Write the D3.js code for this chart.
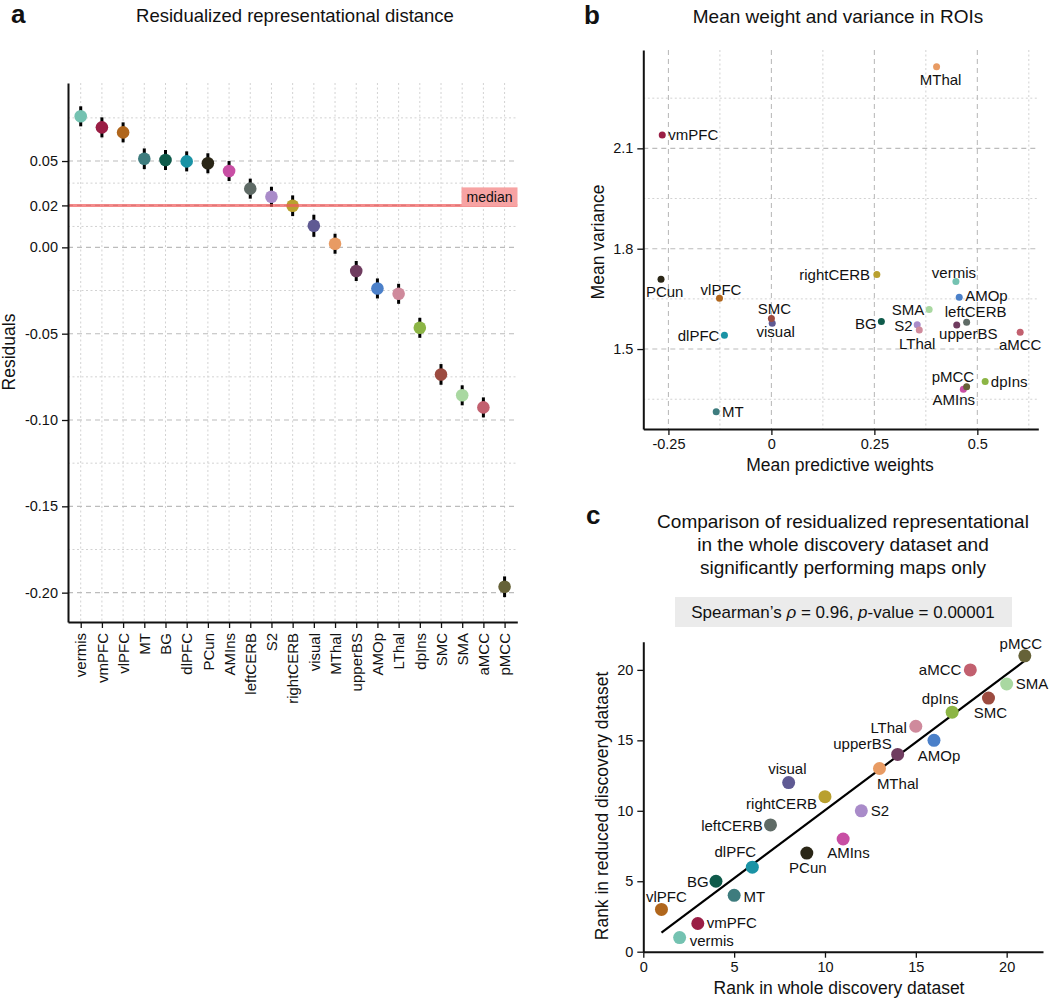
<!DOCTYPE html>
<html><head><meta charset="utf-8">
<script src="https://cdn.jsdelivr.net/npm/d3@7"></script>
<style>
body{margin:0;background:#fff}
text{font-family:"Liberation Sans",Arial,Helvetica,sans-serif;fill:#111}
</style>
</head><body>
<svg id="chart" width="1050" height="999"></svg>
<script>
// ---------------- DATA ----------------
const regions = ["vermis","vmPFC","vlPFC","MT","BG","dlPFC","PCun","AMIns","leftCERB","S2","rightCERB","visual","MThal","upperBS","AMOp","LThal","dpIns","SMC","SMA","aMCC","pMCC"];
const regionColors = ["#74c2b1","#9a1e45","#b0661c","#3e7c7e","#0f5b4b","#1a93a5","#2a2616","#c84fa4","#5f6b66","#a98bc9","#b9a02f","#5f5a93","#e89b63","#6f3c5f","#4b80c9","#cf8a9c","#8cb545","#9c4b40","#a9d8a1","#c2606f","#666238"];

// panel a: residualized representational distance
const residuals   = [0.0759,0.0695,0.0666,0.0513,0.0506,0.0498,0.0487,0.0442,0.0340,0.0293,0.0241,0.0125,0.0021,-0.0137,-0.0238,-0.0269,-0.0466,-0.0736,-0.0857,-0.0927,-0.1966];
const residualErr = [0.0058,0.0058,0.0058,0.0060,0.0058,0.0058,0.0058,0.0058,0.0058,0.0058,0.0060,0.0064,0.0058,0.0058,0.0058,0.0058,0.0058,0.0060,0.0058,0.0058,0.0060];
const medianResidual = 0.0243;
const residualTicks = [-0.20,-0.15,-0.10,-0.05,0.00,medianResidual,0.05];
const residualMinor = [0.075,0.0372,0.0121,-0.025,-0.075,-0.125,-0.175];

// panel b: mean weight and variance
const meanWeight   = [0.448,-0.265,-0.126,-0.134,0.267,-0.114,-0.268,0.466,0.474,0.354,0.256,0.002,0.401,0.450,0.456,0.359,0.519,0.000,0.383,0.604,0.474];
const meanVariance = [1.702,2.140,1.652,1.3125,1.582,1.541,1.709,1.380,1.580,1.573,1.723,1.577,2.344,1.572,1.655,1.557,1.403,1.591,1.618,1.550,1.387];
const weightTicks = [-0.25,0,0.25,0.5];
const weightMinor = [-0.125,0.125,0.375,0.625];
const varianceTicks = [1.5,1.8,2.1];
const varianceMinor = [1.35,1.65,1.95,2.25];

// panel c: ranks
const rankWhole   = [2,3,1,5,4,6,9,11,7,12,10,8,13,14,16,15,17,19,20,18,21];
const rankReduced = [1,2,3,4,5,6,7,8,9,10,11,12,13,14,15,16,17,18,19,20,21];
const rankTicks = [0,5,10,15,20];

// ---------------- LAYOUT (label placement) ----------------
const labelB = {
  MThal:[4,12.5,"middle"], vmPFC:[6,0,"start"], PCun:[3.7,12.7,"middle"], vlPFC:[1.5,-9,"middle"],
  SMC:[3,-10,"middle"], visual:[3.5,8.4,"middle"], dlPFC:[-5,0,"end"], MT:[5.7,0,"start"],
  rightCERB:[-6.7,0,"end"], BG:[-4.7,1.6,"end"], vermis:[-2,-9,"middle"], AMOp:[6,-1.5,"start"],
  SMA:[-5,0,"end"], leftCERB:[9,-10.5,"middle"], S2:[-4.7,0.6,"end"], LThal:[-2,14,"middle"],
  upperBS:[11.5,9,"middle"], aMCC:[0,12,"middle"], dpIns:[5.7,0,"start"], pMCC:[-13.7,-10.7,"middle"],
  AMIns:[-9.5,10.3,"middle"]
};
const labelC = {
  pMCC:[-4,-12,"middle"], aMCC:[-9,0,"end"], SMA:[9,0,"start"], SMC:[2,14,"middle"],
  dpIns:[-12,-14,"middle"], LThal:[-9,1,"end"], AMOp:[5,15,"middle"], upperBS:[-6,-10.6,"end"],
  MThal:[-2.6,14.7,"start"], visual:[-1.3,-14.4,"middle"], rightCERB:[-8,6.4,"end"], S2:[9.4,0,"start"],
  leftCERB:[-7.6,0.5,"end"], dlPFC:[-17,-15.2,"middle"], AMIns:[5.3,14,"middle"], PCun:[1,14.5,"middle"],
  BG:[-7.4,0,"end"], MT:[9.3,1.5,"start"], vlPFC:[5,-12.6,"middle"], vmPFC:[9,-0.7,"start"],
  vermis:[10,2.4,"start"]
};

const svg = d3.select("#chart");
svg.append("rect").attr("width",1050).attr("height",999).attr("fill","#fff");
const colorOf = d3.scaleOrdinal().domain(regions).range(regionColors);
const idx = regions.map((r,i)=>i);
const TICK_FS = "14.5px";

function styleAxis(g){
  g.select(".domain").attr("stroke","#111").attr("stroke-width",2);
  g.selectAll(".tick line").attr("stroke","#111").attr("stroke-width",1.3);
  g.selectAll(".tick text").style("font-size",TICK_FS).style("font-family",'"Liberation Sans",Arial,sans-serif').attr("fill","#111");
}
function hGrid(g, vals, y, x0, x1, dash, color, w){
  g.selectAll(null).data(vals).enter().append("line")
    .attr("x1",x0).attr("x2",x1).attr("y1",d=>y(d)).attr("y2",d=>y(d))
    .attr("stroke",color).attr("stroke-width",w).attr("stroke-dasharray",dash);
}
function vGrid(g, vals, x, y0, y1, dash, color, w){
  g.selectAll(null).data(vals).enter().append("line")
    .attr("y1",y0).attr("y2",y1).attr("x1",d=>x(d)).attr("x2",d=>x(d))
    .attr("stroke",color).attr("stroke-width",w).attr("stroke-dasharray",dash);
}
const MAJ = ["5,4","#bcbcbc",1.1], MIN = ["2,2.5","#d2d2d2",1];

// ================= PANEL A =================
const ax = d3.scalePoint().domain(regions).range([68,517.3]).padding(0.6);
const ay = d3.scaleLinear().domain([-0.2170,0.0952]).range([622,83]);
const ga = svg.append("g");
hGrid(ga, residualMinor, ay, 68, 517.3, ...MIN);
vGrid(ga, regions, ax, 83, 622, ...MIN);
hGrid(ga, residualTicks, ay, 68, 517.3, ...MAJ);

ga.selectAll(".err").data(idx).enter().append("line")
  .attr("x1",i=>ax(regions[i])).attr("x2",i=>ax(regions[i]))
  .attr("y1",i=>ay(residuals[i]-residualErr[i])).attr("y2",i=>ay(residuals[i]+residualErr[i]))
  .attr("stroke","#000").attr("stroke-width",3);
ga.selectAll(".pt").data(idx).enter().append("circle")
  .attr("cx",i=>ax(regions[i])).attr("cy",i=>ay(residuals[i])).attr("r",6.3)
  .attr("fill",i=>colorOf(regions[i]));
ga.append("line").attr("x1",68).attr("x2",517.3)
  .attr("y1",ay(medianResidual)).attr("y2",ay(medianResidual))
  .attr("stroke","#f05a5a").attr("stroke-opacity",0.7).attr("stroke-width",3);
ga.append("rect").attr("x",461.5).attr("y",ay(medianResidual)-18).attr("width",56).attr("height",19)
  .attr("fill","#f7a3a3");
ga.append("text").attr("x",489.5).attr("y",ay(medianResidual)-8.5).attr("text-anchor","middle")
  .attr("dominant-baseline","central").style("font-size","14px").text("median");

const gax = ga.append("g").attr("transform","translate(0,622)")
  .call(d3.axisBottom(ax).tickSize(6).tickSizeOuter(0));
styleAxis(gax);
gax.selectAll(".tick text").attr("transform","rotate(-90)").attr("text-anchor","end")
  .attr("x",-11).attr("y",0).attr("dy","0.35em").style("font-size","15px");
const gay = ga.append("g").attr("transform","translate(68,0)")
  .call(d3.axisLeft(ay).tickValues(residualTicks).tickFormat(d=>d.toFixed(2)).tickSize(6).tickSizeOuter(0).tickPadding(4));
styleAxis(gay);

svg.append("text").attr("x",11).attr("y",23).style("font-size","26px").style("font-weight","bold").text("a");
svg.append("text").attr("x",295).attr("y",22).attr("text-anchor","middle").style("font-size","18.5px")
  .text("Residualized representational distance");
svg.append("text").attr("transform","translate(15,352) rotate(-90)").attr("text-anchor","middle")
  .style("font-size","17.5px").text("Residuals");

// ================= PANEL B =================
const bx = d3.scaleLinear().domain([-0.311,0.648]).range([643.3,1038.3]);
const by = d3.scaleLinear().domain([1.261,2.394]).range([429,50]);
const gb = svg.append("g");
hGrid(gb, varianceMinor, by, 643.3, 1038.3, ...MIN);
vGrid(gb, weightMinor, bx, 50, 429, ...MIN);
hGrid(gb, varianceTicks, by, 643.3, 1038.3, ...MAJ);
vGrid(gb, weightTicks, bx, 50, 429, ...MAJ);
gb.selectAll(".pt").data(idx).enter().append("circle")
  .attr("cx",i=>bx(meanWeight[i])).attr("cy",i=>by(meanVariance[i])).attr("r",3.5)
  .attr("fill",i=>colorOf(regions[i]));
gb.selectAll(".lb").data(idx).enter().append("text")
  .attr("x",i=>bx(meanWeight[i])+labelB[regions[i]][0])
  .attr("y",i=>by(meanVariance[i])+labelB[regions[i]][1])
  .attr("text-anchor",i=>labelB[regions[i]][2]).attr("dominant-baseline","central")
  .style("font-size","15px").text(i=>regions[i]);
const gbx = gb.append("g").attr("transform","translate(0,429)")
  .call(d3.axisBottom(bx).tickValues(weightTicks).tickFormat(d=>String(d)).tickSize(6).tickSizeOuter(0).tickPadding(4));
styleAxis(gbx);
const gby = gb.append("g").attr("transform","translate(643.3,0)")
  .call(d3.axisLeft(by).tickValues(varianceTicks).tickFormat(d=>d.toFixed(1)).tickSize(6).tickSizeOuter(0).tickPadding(4));
styleAxis(gby);
svg.append("text").attr("x",584).attr("y",24).style("font-size","26px").style("font-weight","bold").text("b");
svg.append("text").attr("x",838).attr("y",23).attr("text-anchor","middle").style("font-size","19px")
  .text("Mean weight and variance in ROIs");
svg.append("text").attr("transform","translate(603.5,242) rotate(-90)").attr("text-anchor","middle")
  .style("font-size","17.5px").text("Mean variance");
svg.append("text").attr("x",840).attr("y",471).attr("text-anchor","middle")
  .style("font-size","17.5px").text("Mean predictive weights");

// ================= PANEL C =================
const cx = d3.scaleLinear().domain([0,22]).range([643.3,1043]);
const cy = d3.scaleLinear().domain([0,22]).range([951.7,641.7]);
const gc = svg.append("g");
svg.append("text").attr("x",586).attr("y",524).style("font-size","26px").style("font-weight","bold").text("c");
const titleC = ["Comparison of residualized representational","in the whole discovery dataset and","significantly performing maps only"];
svg.append("g").selectAll("text").data(titleC).enter().append("text")
  .attr("x",843).attr("y",(d,i)=>528+i*23).attr("text-anchor","middle").style("font-size","19px").text(d=>d);
gc.append("rect").attr("x",675).attr("y",597).attr("width",337).attr("height",30).attr("fill","#ebebeb");
const sp = gc.append("text").attr("x",843).attr("y",612).attr("text-anchor","middle")
  .attr("dominant-baseline","central").style("font-size","17px");
sp.append("tspan").text("Spearman\u2019s ");
sp.append("tspan").style("font-style","italic").text("\u03c1");
sp.append("tspan").text(" = 0.96, ");
sp.append("tspan").style("font-style","italic").text("p");
sp.append("tspan").text("-value = 0.00001");

// regression line (least squares on ranks)
const mx = d3.mean(rankWhole), my = d3.mean(rankReduced);
const slope = d3.sum(idx,i=>(rankWhole[i]-mx)*(rankReduced[i]-my)) / d3.sum(idx,i=>(rankWhole[i]-mx)**2);
const icpt = my - slope*mx;
const xr = d3.extent(rankWhole);
gc.append("line").attr("x1",cx(xr[0])).attr("x2",cx(xr[1]))
  .attr("y1",cy(icpt+slope*xr[0])).attr("y2",cy(icpt+slope*xr[1]))
  .attr("stroke","#000").attr("stroke-width",2.2);
gc.selectAll(".pt").data(idx).enter().append("circle")
  .attr("cx",i=>cx(rankWhole[i])).attr("cy",i=>cy(rankReduced[i])).attr("r",6.5)
  .attr("fill",i=>colorOf(regions[i]));
gc.selectAll(".lb").data(idx).enter().append("text")
  .attr("x",i=>cx(rankWhole[i])+labelC[regions[i]][0])
  .attr("y",i=>cy(rankReduced[i])+labelC[regions[i]][1])
  .attr("text-anchor",i=>labelC[regions[i]][2]).attr("dominant-baseline","central")
  .style("font-size","15px").text(i=>regions[i]);
const gcx = gc.append("g").attr("transform","translate(0,951.7)")
  .call(d3.axisBottom(cx).tickValues(rankTicks).tickSize(6).tickSizeOuter(0).tickPadding(4));
styleAxis(gcx);
const gcy = gc.append("g").attr("transform","translate(643.3,0)")
  .call(d3.axisLeft(cy).tickValues(rankTicks).tickSize(6).tickSizeOuter(0).tickPadding(4));
styleAxis(gcy);
svg.append("text").attr("transform","translate(608,806) rotate(-90)").attr("text-anchor","middle")
  .style("font-size","17.5px").text("Rank in reduced discovery dataset");
svg.append("text").attr("x",839).attr("y",994).attr("text-anchor","middle")
  .style("font-size","17.5px").text("Rank in whole discovery dataset");
</script>
</body></html>
